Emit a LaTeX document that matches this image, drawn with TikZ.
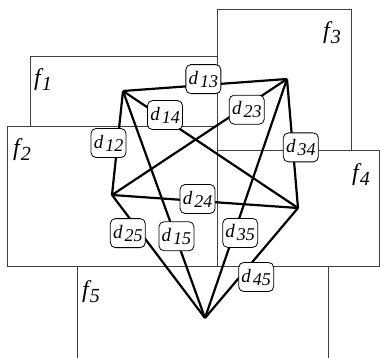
\documentclass[tikz,border=0pt]{standalone}
\usepackage{fontspec}
\setmainfont{Liberation Serif}
\usetikzlibrary{positioning}

\newcommand{\facename}[1]{{\fontsize{24}{26}\selectfont\itshape f\kern1pt\raisebox{-5pt}{\fontsize{20}{22}\selectfont #1}}}
\newcommand{\distname}[1]{{\fontsize{19}{21}\selectfont\itshape d\kern2pt\raisebox{-3pt}{\fontsize{18}{20}\selectfont #1}}}

\begin{document}
\begin{tikzpicture}[x=1pt,y=-1pt,
  face/.style={draw=black!75,line width=0.9pt},
  link/.style={line width=2.2pt,line join=round},
  dlabel/.style={draw,fill=white,line width=0.8pt,rounded corners=5pt,
    inner xsep=2pt,inner ysep=2pt,minimum height=29pt,minimum width=35pt}]
  \useasboundingbox (0,0) rectangle (380,358);
  \clip (0,0) rectangle (380,358);
  % faces
  \draw[face] (30,56) rectangle (217,126);
  \draw[face] (217,9) rectangle (351,150);
  \draw[face] (7,126) rectangle (217,266);
  \draw[face] (217,150) rectangle (379,266);
  \draw[face] (77,266) rectangle (328,364);
  \node (f1) at (43,80) {\facename{1}};
  \node (f2) at (22,150) {\facename{2}};
  \node (f3) at (332,33) {\facename{3}};
  \node (f4) at (361,175) {\facename{4}};
  \node (f5) at (91,292) {\facename{5}};
  % vertices
  \coordinate (v1) at (123,91);
  \coordinate (v2) at (112,195);
  \coordinate (v3) at (287,79);
  \coordinate (v4) at (298,208);
  \coordinate (v5) at (205,318);
  % links
  \draw[link] (v1) -- (v2);
  \draw[link] (v1) -- (v3);
  \draw[link] (v1) -- (v4);
  \draw[link] (v1) -- (v5);
  \draw[link] (v2) -- (v3);
  \draw[link] (v2) -- (v4);
  \draw[link] (v2) -- (v5);
  \draw[link] (v3) -- (v4);
  \draw[link] (v3) -- (v5);
  \draw[link] (v4) -- (v5);
  % distances
  \path (v1) -- node[dlabel,pos=0.5,shift={(-9,0)}] (d12) {\distname{12}} (v2);
  \path (v1) -- node[dlabel,pos=0.49,shift={(0,-6)}] (d13) {\distname{13}} (v3);
  \path (v1) -- node[dlabel,pos=0.24,shift={(0,-4)}] (d14) {\distname{14}} (v4);
  \path (v1) -- node[dlabel,pos=0.64,shift={(1,0)}] (d15) {\distname{15}} (v5);
  \path (v2) -- node[dlabel,pos=0.77,shift={(0,4)}] (d23) {\distname{23}} (v3);
  \path (v2) -- node[dlabel,pos=0.46,shift={(0,-2)}] (d24) {\distname{24}} (v4);
  \path (v2) -- node[dlabel,pos=0.31,shift={(-13,0)}] (d25) {\distname{25}} (v5);
  \path (v3) -- node[dlabel,pos=0.53,shift={(8,0)}] (d34) {\distname{34}} (v4);
  \path (v3) -- node[dlabel,pos=0.644,shift={(6,0)}] (d35) {\distname{35}} (v5);
  \path (v4) -- node[dlabel,pos=0.6,shift={(14,3)}] (d45) {\distname{45}} (v5);
\end{tikzpicture}
\end{document}
